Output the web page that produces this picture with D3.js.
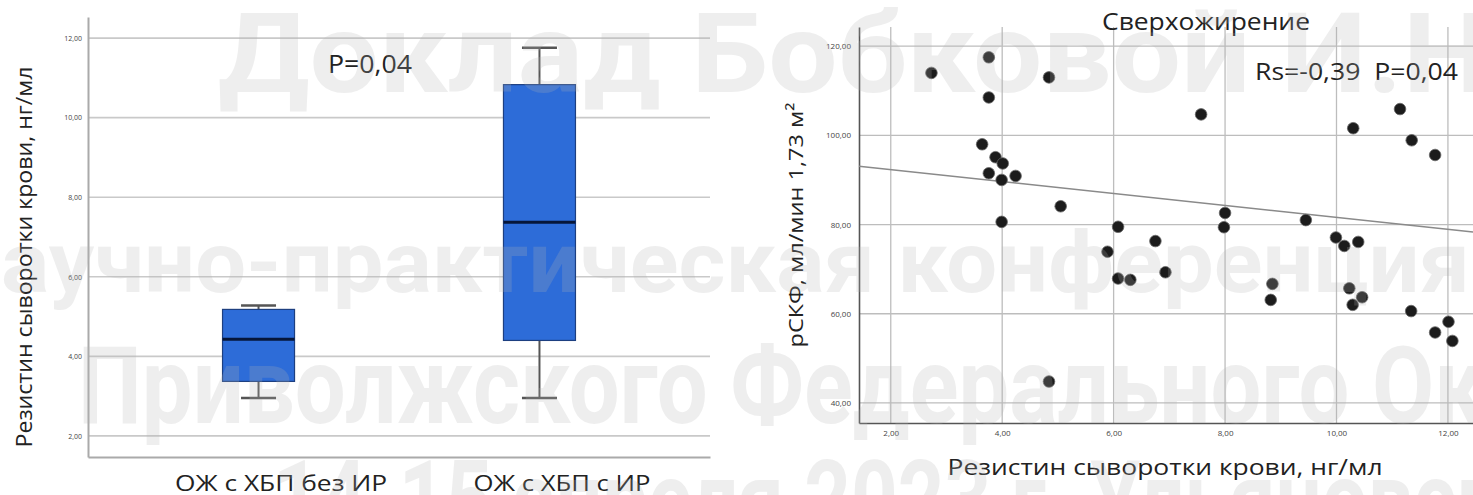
<!DOCTYPE html>
<html>
<head>
<meta charset="utf-8">
<script src="https://cdn.jsdelivr.net/npm/d3@7"></script>
<style>
  body { margin: 0; background: #fff; }
  text { font-family: "Open Sans", sans-serif; }
</style>
</head>
<body>
<script>
var width = 1473,
    height = 495;

// left panel: boxplot
var groups = ["ОЖ с ХБП без ИР", "ОЖ с ХБП с ИР"];
var whiskerLow = [2.95, 2.95];
var q1 = [3.37, 4.40];
var median = [4.43, 7.37];
var q3 = [5.18, 10.83];
var whiskerHigh = [5.28, 11.76];
var leftTicks = [2, 4, 6, 8, 10, 12];

// right panel: scatter
var resistin = [2.73, 3.76, 4.84, 3.76, 3.64, 3.88, 4.01, 3.76, 3.99, 4.24,
                5.05, 3.99, 6.08, 5.89, 6.08, 6.30, 4.84, 7.57, 11.14, 10.30,
                11.35, 11.77, 8.00, 7.98, 9.45, 6.75, 9.99, 10.14, 10.39, 6.93,
                8.85, 8.82, 10.23, 10.29, 10.46, 11.34, 11.77, 12.01, 12.08];
var gfr = [114.0, 117.5, 113.0, 108.5, 98.0, 95.1, 93.7, 91.5, 90.0, 90.9,
           84.1, 80.6, 79.5, 73.9, 67.9, 67.6, 44.8, 104.7, 105.9, 101.6,
           98.9, 95.6, 82.6, 79.4, 81.0, 76.3, 77.1, 75.2, 76.1, 69.3,
           66.7, 63.1, 65.7, 62.0, 63.7, 60.6, 55.8, 58.2, 53.9];
var fitLine = {intercept: 95.0, slope: -1.34};
var xTicks = [2, 4, 6, 8, 10, 12];
var yTicks = [40, 60, 80, 100, 120];

var watermark = ["Доклад Бобковой И.Н.",
                 "научно-практическая конференция",
                 "Приволжского Федерального Округа",
                 "14-15 апреля 2023 г. Ульяновск"];

var fmt = function(d) { return d3.format(".2f")(d).replace(".", ","); };

var svg = d3.select("body").append("svg")
    .attr("width", width)
    .attr("height", height);

// the slide text is a little stretched sideways, so fit widths
function label(g, x, y, size, len, str, anchor) {
  return g.append("text")
      .attr("x", x).attr("y", y)
      .attr("text-anchor", anchor || "start")
      .attr("textLength", len)
      .attr("lengthAdjust", "spacingAndGlyphs")
      .style("font-size", size + "px")
      .style("fill", "#222")
      .text(str);
}

/* ---------- boxplot ---------- */
var yL = d3.scaleLinear().domain([1.47, 12.53]).range([457, 17]);
var xL = d3.scalePoint().domain(groups).range([88, 710]).padding(0.607);

var left = svg.append("g");

left.selectAll(".gridL")
    .data(leftTicks)
    .enter().append("line")
    .attr("x1", 88).attr("x2", 710)
    .attr("y1", function(d) { return yL(d); })
    .attr("y2", function(d) { return yL(d); })
    .style("stroke", "#c9c9c9")
    .style("stroke-width", 1.6);

var axL = left.append("g")
    .attr("transform", "translate(88,0)")
    .call(d3.axisLeft(yL).tickValues(leftTicks).tickSize(0).tickPadding(6).tickFormat(fmt));
axL.select(".domain").style("stroke", "#aaa").style("stroke-width", 2);
axL.selectAll("text").style("font-size", "7px").style("fill", "#444");

var axB = left.append("g")
    .attr("transform", "translate(0,457)")
    .call(d3.axisBottom(xL).tickSize(0).tickPadding(18));
axB.select(".domain").style("stroke", "#aaa").style("stroke-width", 2);
var xLabelLen = [212, 177];
axB.selectAll("text")
    .attr("dx", 22)
    .attr("textLength", function(d, i) { return xLabelLen[i]; })
    .attr("lengthAdjust", "spacingAndGlyphs")
    .style("font-size", "22px")
    .style("font-family", "Open Sans")
    .style("fill", "#222");

var idx = d3.range(groups.length);
var boxW = 72, capW = 35;

left.selectAll(".whisker")
    .data(idx)
    .enter().append("line")
    .attr("x1", function(i) { return xL(groups[i]); })
    .attr("x2", function(i) { return xL(groups[i]); })
    .attr("y1", function(i) { return yL(whiskerLow[i]); })
    .attr("y2", function(i) { return yL(whiskerHigh[i]); })
    .style("stroke", "#555")
    .style("stroke-width", 2);

["low", "high"].forEach(function(k) {
  left.selectAll(".cap-" + k)
      .data(idx)
      .enter().append("line")
      .attr("x1", function(i) { return xL(groups[i]) - capW / 2; })
      .attr("x2", function(i) { return xL(groups[i]) + capW / 2; })
      .attr("y1", function(i) { return yL(k == "low" ? whiskerLow[i] : whiskerHigh[i]); })
      .attr("y2", function(i) { return yL(k == "low" ? whiskerLow[i] : whiskerHigh[i]); })
      .style("stroke", "#555")
      .style("stroke-width", 2.5);
});

left.selectAll(".box")
    .data(idx)
    .enter().append("rect")
    .attr("x", function(i) { return xL(groups[i]) - boxW / 2; })
    .attr("width", boxW)
    .attr("y", function(i) { return yL(q3[i]); })
    .attr("height", function(i) { return yL(q1[i]) - yL(q3[i]); })
    .style("fill", "#2d6cd8")
    .style("stroke", "#1d3f80")
    .style("stroke-width", 1.2);

left.selectAll(".median")
    .data(idx)
    .enter().append("line")
    .attr("x1", function(i) { return xL(groups[i]) - boxW / 2; })
    .attr("x2", function(i) { return xL(groups[i]) + boxW / 2; })
    .attr("y1", function(i) { return yL(median[i]); })
    .attr("y2", function(i) { return yL(median[i]); })
    .style("stroke", "#06163a")
    .style("stroke-width", 3);

label(left, 0, 0, 21, 381, "Резистин сыворотки крови, нг/мл", "middle")
    .attr("transform", "translate(32,257) rotate(-90)");

label(left, 328, 73, 25, 84, "P=0,04");

/* ---------- scatter ---------- */
var xR = d3.scaleLinear().domain([1.43, 12.45]).range([859, 1473]);
var yR = d3.scaleLinear().domain([35.5, 124.3]).range([423, 27]);

var right = svg.append("g");

right.selectAll(".gridX")
    .data(xTicks)
    .enter().append("line")
    .attr("x1", function(d) { return xR(d); })
    .attr("x2", function(d) { return xR(d); })
    .attr("y1", 27).attr("y2", 423)
    .style("stroke", "#bdbdbd")
    .style("stroke-width", 1.3);

right.selectAll(".gridY")
    .data(yTicks)
    .enter().append("line")
    .attr("x1", 859).attr("x2", 1473)
    .attr("y1", function(d) { return yR(d); })
    .attr("y2", function(d) { return yR(d); })
    .style("stroke", "#bdbdbd")
    .style("stroke-width", 1.3);

var axRL = right.append("g")
    .attr("transform", "translate(859,0)")
    .call(d3.axisLeft(yR).tickValues(yTicks).tickSize(0).tickPadding(8).tickFormat(fmt));
axRL.select(".domain").style("stroke", "#555").style("stroke-width", 1.6);
axRL.selectAll("text").style("font-size", "8px").style("fill", "#444");

var axRB = right.append("g")
    .attr("transform", "translate(0,423)")
    .call(d3.axisBottom(xR).tickValues(xTicks).tickSize(0).tickPadding(7).tickFormat(fmt));
axRB.select(".domain").style("stroke", "#555").style("stroke-width", 1.6);
axRB.selectAll("text").style("font-size", "8px").style("fill", "#444");

var xd = xR.domain();
right.append("line")
    .attr("x1", xR(xd[0])).attr("x2", xR(xd[1]))
    .attr("y1", yR(fitLine.intercept + fitLine.slope * xd[0]))
    .attr("y2", yR(fitLine.intercept + fitLine.slope * xd[1]))
    .style("stroke", "#8a8a8a")
    .style("stroke-width", 1.5);

right.selectAll(".dot")
    .data(d3.range(resistin.length))
    .enter().append("circle")
    .attr("cx", function(i) { return xR(resistin[i]); })
    .attr("cy", function(i) { return yR(gfr[i]); })
    .attr("r", 5.8)
    .style("fill", "#1c1c1c")
    .style("stroke", "#666")
    .style("stroke-width", 0.8);

label(right, 1206, 30, 24, 208, "Сверхожирение", "middle");
label(right, 1255, 80, 24, 203, "Rs=-0,39  P=0,04").attr("xml:space", "preserve");
label(right, 1165, 475, 22, 435, "Резистин сыворотки крови, нг/мл", "middle");
label(right, 0, 0, 20, 245, "рСКФ, мл/мин 1,73 м²", "middle")
    .attr("transform", "translate(803,225) rotate(-90)");

/* ---------- watermark ---------- */
var wmX = [218, -50, 78, 273],
    wmY = [92, 292, 423, 537],
    wmSize = [112, 86, 108, 108],
    wmLen = [1307, 1520, 1589, 1229];

svg.selectAll(".wm")
    .data(watermark)
    .enter().append("text")
    .attr("x", function(d, i) { return wmX[i]; })
    .attr("y", function(d, i) { return wmY[i]; })
    .attr("textLength", function(d, i) { return wmLen[i]; })
    .attr("lengthAdjust", "spacingAndGlyphs")
    .style("font-family", "Roboto")
    .style("font-weight", "bold")
    .style("font-size", function(d, i) { return wmSize[i] + "px"; })
    .style("fill", "#b4b4b4")
    .style("opacity", 0.22)
    .text(function(d) { return d; });
</script>
</body>
</html>
